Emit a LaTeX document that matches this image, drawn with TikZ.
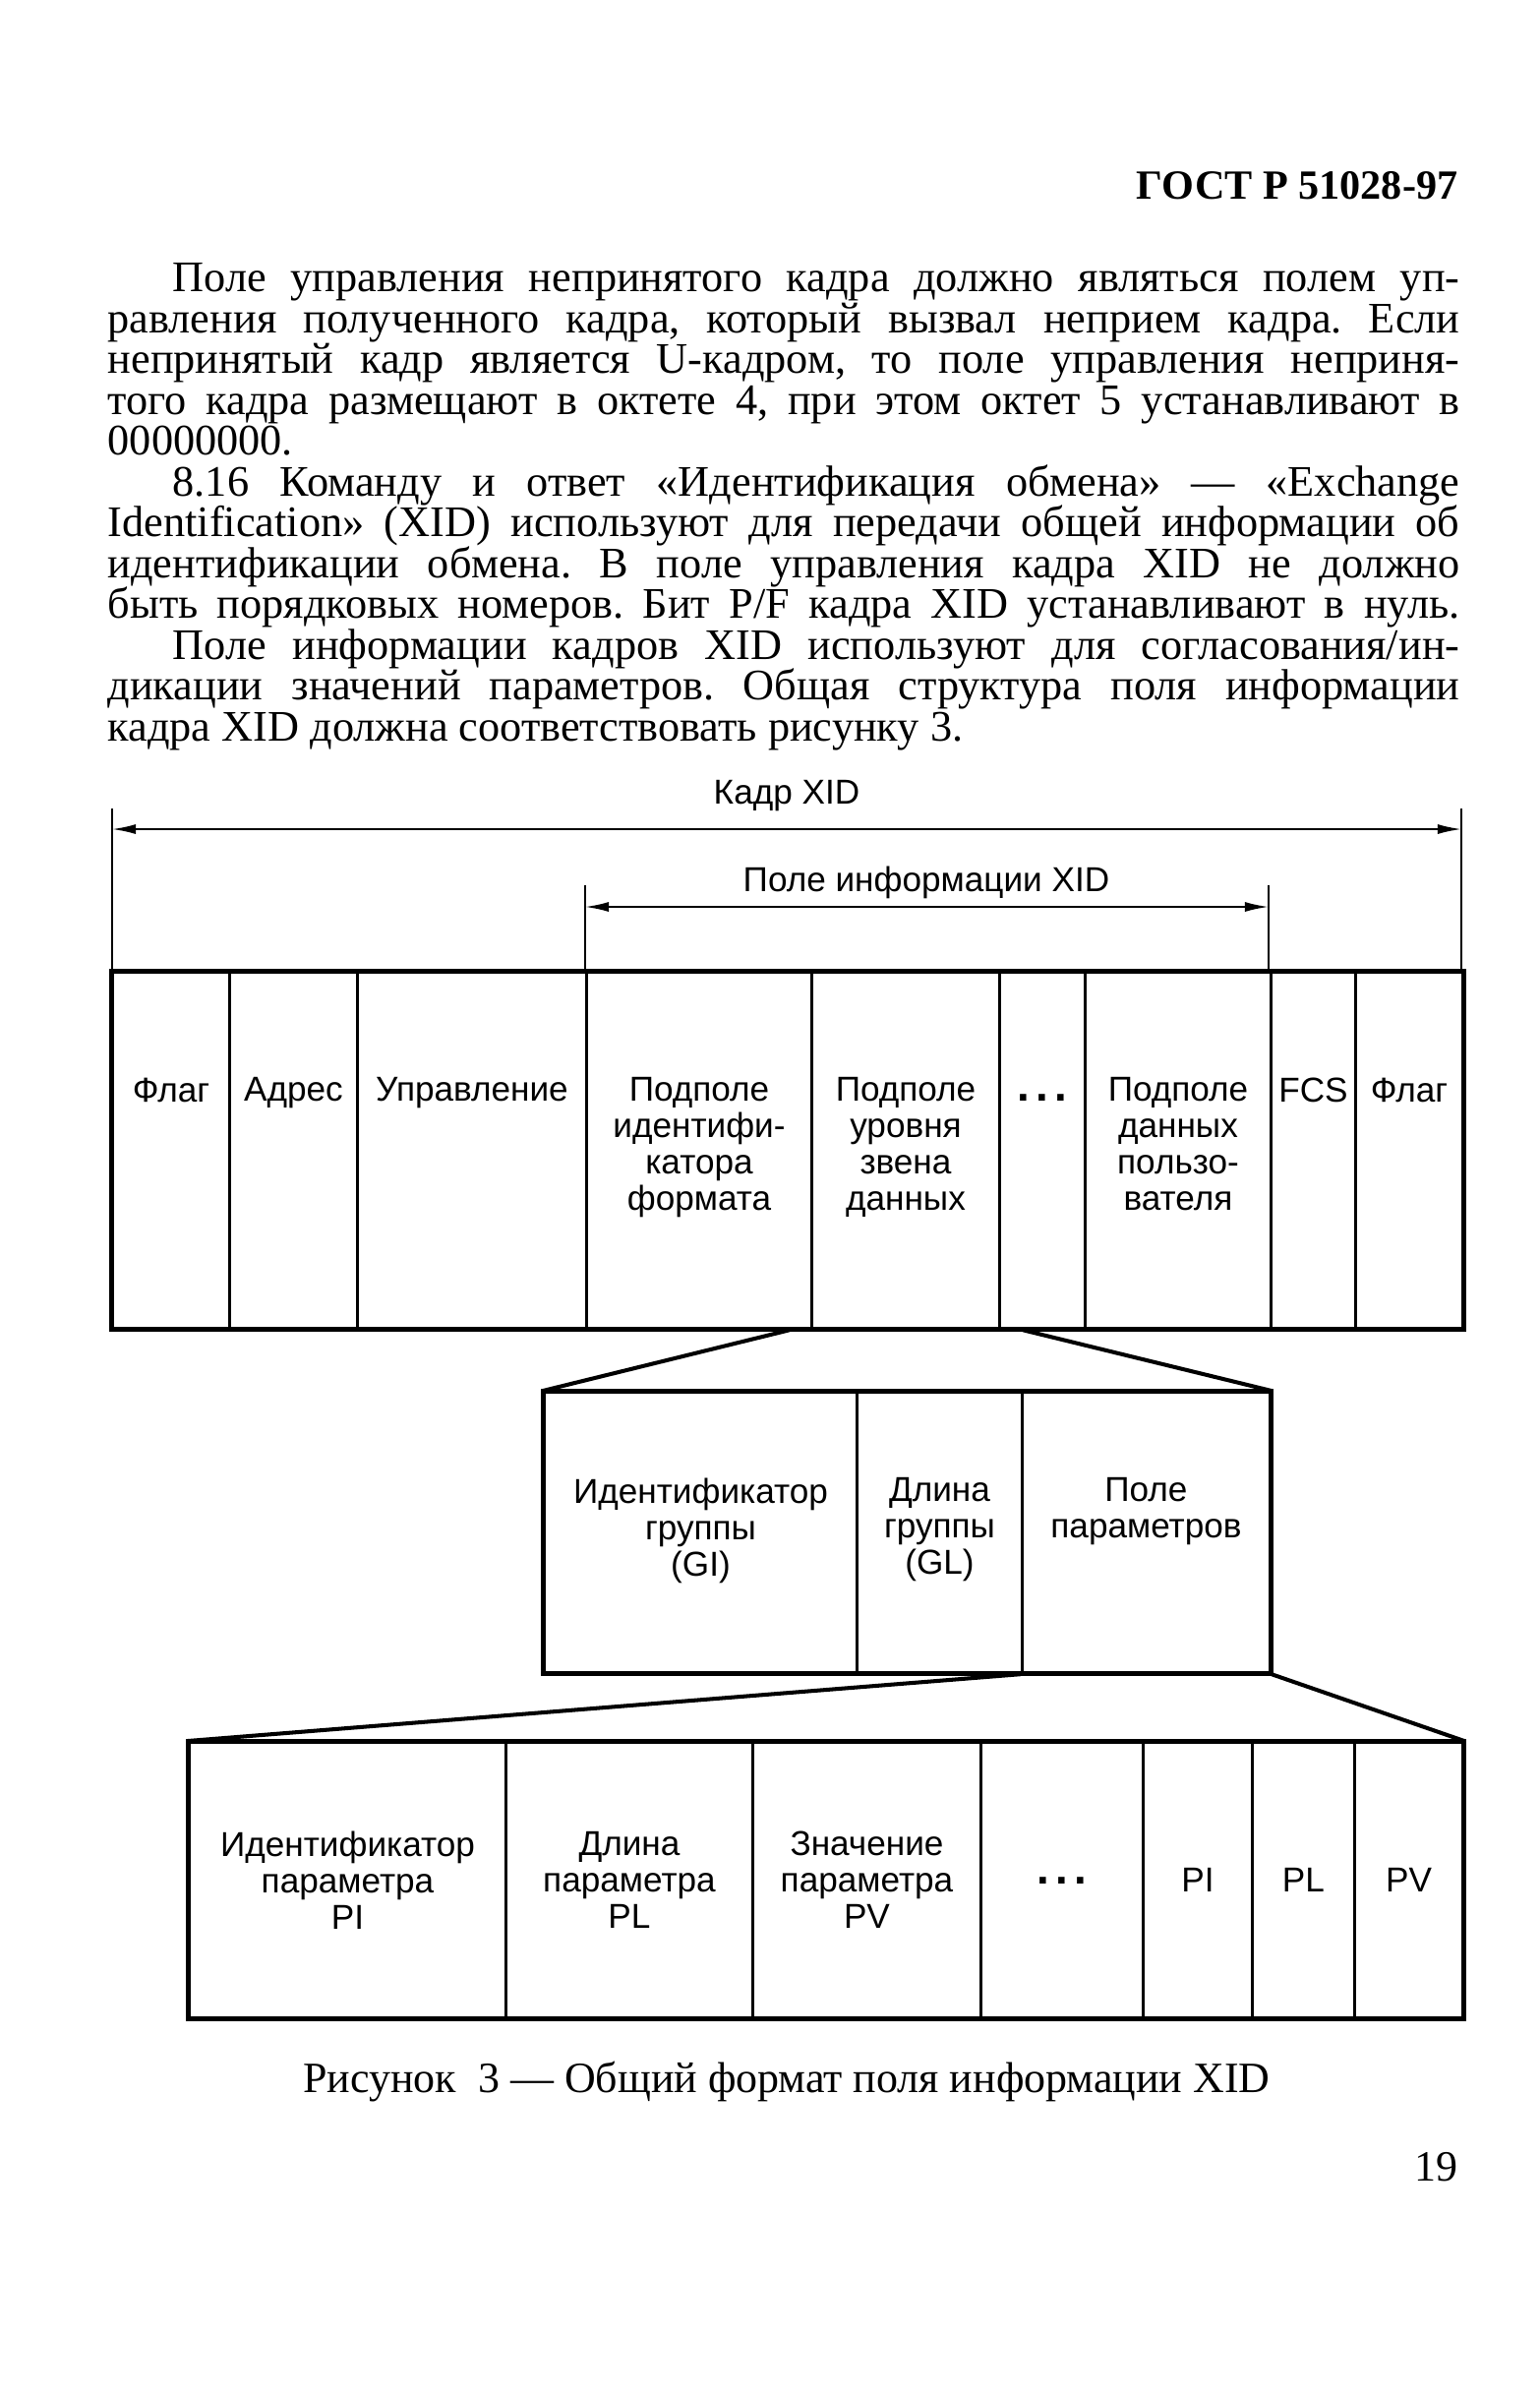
\documentclass[tikz,border=0pt]{standalone}
\usepackage{fontspec}
\setmainfont{Liberation Serif}
\newfontfamily\diagfont{Liberation Sans}
\usetikzlibrary{arrows.meta, calc, positioning}
\newcommand{\bigdots}{\textbf{\fontsize{13pt}{13pt}\selectfont .\kern0.14em.\kern0.14em.}}
\tikzset{
  cell/.style={draw, line width=0.85pt, inner sep=0pt, anchor=north west},
  frame/.style={draw, line width=1.15pt},
  fan/.style={line width=1.15pt},
  tick/.style={line width=0.45pt},
  dim/.style={{Latex[length=2.4mm,width=1mm]}-{Latex[length=2.4mm,width=1mm]}, line width=0.55pt},
  lab/.style={font=\diagfont\fontsize{10pt}{10.5pt}\selectfont, align=center, inner sep=0pt},
  body/.style={font=\fontsize{12.6pt}{11.8pt}\selectfont, text width=13.74cm, align=justify,
               inner sep=0pt, anchor=north west},
  plain/.style={font=\fontsize{12.5pt}{14pt}\selectfont, inner sep=0pt}
}
\begin{document}
\begin{tikzpicture}[x=0.01cm, y=-0.01cm]
\fill[white] (0,0) rectangle (1565,2435);
\useasboundingbox (0,0) rectangle (1565,2435);

% page text
\node[plain, font=\bfseries\fontsize{12pt}{14pt}\selectfont, anchor=base east] (gost) at (1483,202) {ГОСТ Р 51028-97};
\node[body] (txt) at (109,267) {\hyphenpenalty=10000 \tolerance=10000 \frenchspacing
\lineskiplimit=-100pt \lineskip=0pt
\noindent\hspace*{0.66cm}Поле управления непринятого кадра должно являться полем уп-\linebreak
равления полученного кадра, который вызвал неприем кадра. Если\linebreak
непринятый кадр является U-кадром, то поле управления неприня-\linebreak
того кадра размещают в октете 4, при этом октет 5 устанавливают в\linebreak
00000000.\par
\noindent\hspace*{0.66cm}8.16 Команду и ответ «Идентификация обмена» — «Exchange\linebreak
Identification» (XID) используют для передачи общей информации об\linebreak
идентификации обмена. В поле управления кадра XID не должно\linebreak
быть порядковых номеров. Бит P/F кадра XID устанавливают в нуль.{\parfillskip=0pt\par}
\noindent\hspace*{0.66cm}Поле информации кадров XID используют для согласования/ин-\linebreak
дикации значений параметров. Общая структура поля информации\linebreak
кадра XID должна соответствовать рисунку 3.\par};

% frame row
\foreach \a/\b/\t [count=\i] in {113/232/Флаг, 232/362/Адрес, 362/595/Управление,
    595/824/{Подполе\\идентифи-\\катора\\формата}, 824/1015/{Подполе\\уровня\\звена\\данных},
    1015/1102/{\vphantom{П}\bigdots}, 1102/1291/{Подполе\\данных\\пользо-\\вателя},
    1291/1377/FCS, 1377/1486/Флаг}
{
  \node[cell, minimum width={(\b-\a)*0.01cm}, minimum height=3.62cm] (f\i) at (\a,987) {};
  \node[lab, anchor=north] (lf\i) at ($(f\i.north)+(0,108)$) {\t};
}
\draw[frame] (f1.north west) rectangle (f9.south east);

% group row
\foreach \a/\b/\t [count=\i] in {552/870/{Идентификатор\\группы\\(GI)}, 870/1038/{Длина\\группы\\(GL)},
    1038/1290/{Поле\\параметров}}
{
  \node[cell, minimum width={(\b-\a)*0.01cm}, minimum height=2.85cm] (g\i) at (\a,1414) {};
  \node[lab, anchor=north] (lg\i) at ($(g\i.north)+(0,88)$) {\t};
}
\draw[frame] (g1.north west) rectangle (g3.south east);

% parameter row
\foreach \a/\b/\t [count=\i] in {191/513/{Идентификатор\\параметра\\PI}, 513/764/{Длина\\параметра\\PL},
    764/996/{Значение\\параметра\\PV}, 996/1161/\bigdots, 1161/1272/PI, 1272/1376/PL, 1376/1486/PV}
{
  \node[cell, minimum width={(\b-\a)*0.01cm}, minimum height=2.8cm] (p\i) at (\a,1770) {};
  \node[lab] (lp\i) at (p\i.center) {\t};
}
\draw[frame] (p1.north west) rectangle (p7.south east);

% expansion lines
\draw[fan] ($(f5.south west)+(-21,0)$) -- (g1.north west);
\draw[fan] ($(f5.south east)+(22,0)$) -- (g3.north east);
\draw[fan] (g3.south west) -- (p1.north west);
\draw[fan] (g3.south east) -- (p7.north east);

% dimension lines
\coordinate (kl) at (114,822);
\coordinate (kr) at (1486,822);
\coordinate (il) at (595,900);
\coordinate (ir) at (1290,900);
\draw[tick] (kl) -- (kl |- f1.north);
\draw[tick] (kr) -- (kr |- f9.north);
\draw[tick] (il) -- (il |- f4.north);
\draw[tick] (ir) -- (ir |- f7.north);
\draw[dim] ($(kl)+(0,21)$) -- ($(kr)+(0,21)$);
\draw[dim] ($(il)+(0,22)$) -- ($(ir)+(0,22)$);
\node[lab] (kadr) at (800,809) {Кадр XID};
\node[lab] (pinf) at (942,897) {Поле информации XID};

% caption and page number
\node[plain, anchor=base] (cap) at (800,2127) {Рисунок~~3 — Общий формат поля информации XID};
\node[plain, anchor=base east] (pg) at (1483,2217) {19};
\end{tikzpicture}
\end{document}
